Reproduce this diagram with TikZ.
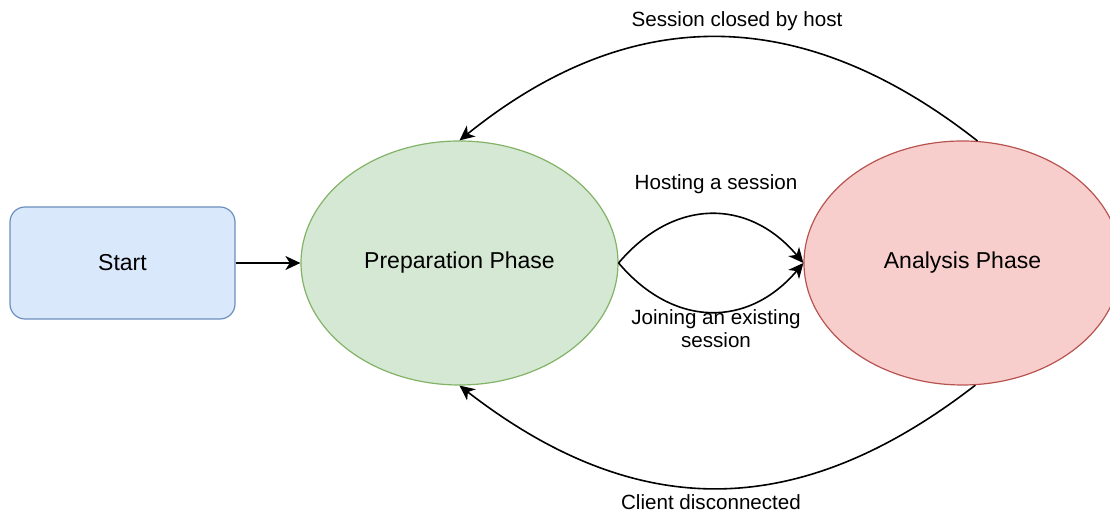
\documentclass[tikz,border=0pt]{standalone}
\usepackage{fontspec}
\setmainfont{Liberation Sans}
\usetikzlibrary{shapes.geometric,arrows.meta}

\begin{document}
\begin{tikzpicture}[x=0.5pt,y=0.5pt]
\definecolor{start_fill}{HTML}{DAE8FC}
\definecolor{start_line}{HTML}{6C8EBF}
\definecolor{prep_fill}{HTML}{D5E8D4}
\definecolor{prep_line}{HTML}{82B366}
\definecolor{ana_fill}{HTML}{F8CECC}
\definecolor{ana_line}{HTML}{B85450}
\tikzset{
  startbox/.style={shape=rectangle,rounded corners=7.5pt,draw=start_line,fill=start_fill,line width=0.6pt,minimum width=112.5pt,minimum height=56pt,font=\fontsize{11.5}{13.8}\selectfont},
  phase/.style={shape=ellipse,inner sep=0pt,line width=0.6pt,minimum width=158.5pt,minimum height=122pt,font=\fontsize{11.5}{13.8}\selectfont},
  flow/.style={-{Stealth[length=7.5pt,width=7pt,inset=2.2pt]},line width=0.8pt},
  edgelabel/.style={align=center,inner sep=0pt,font=\fontsize{10.3}{11.6}\selectfont}
}
\useasboundingbox (0,0) rectangle (1110,513);

% states
\node[startbox] (start) at (122.5,250) {Start};
\node[phase,fill=prep_fill,draw=prep_line] (prep) at (459.5,250) {Preparation Phase};
\node[phase,fill=ana_fill,draw=ana_line] (ana) at (962.5,250) {Analysis Phase};

% transitions
\draw[flow] (start) -- (prep);
\draw[flow] (prep.east) .. controls +(55,65) and +(-55,65) .. (ana.west);
\draw[flow] (prep.east) .. controls +(55,-65) and +(-55,-65) .. (ana.west);
\draw[flow] (ana.83) .. controls +(-177,139) and +(170,137) .. (prep.north);
\draw[flow] (ana.-84) .. controls +(-177,-137) and +(177,-137) .. (prep.south);

% labels
\node[edgelabel] (host) at (716,329) {Hosting a session};
\node[edgelabel] (join) at (716,184) {Joining an existing\\session};
\node[edgelabel] (closed) at (737,492) {Session closed by host};
\node[edgelabel] (lost) at (711,11) {Client disconnected};
\end{tikzpicture}
\end{document}
